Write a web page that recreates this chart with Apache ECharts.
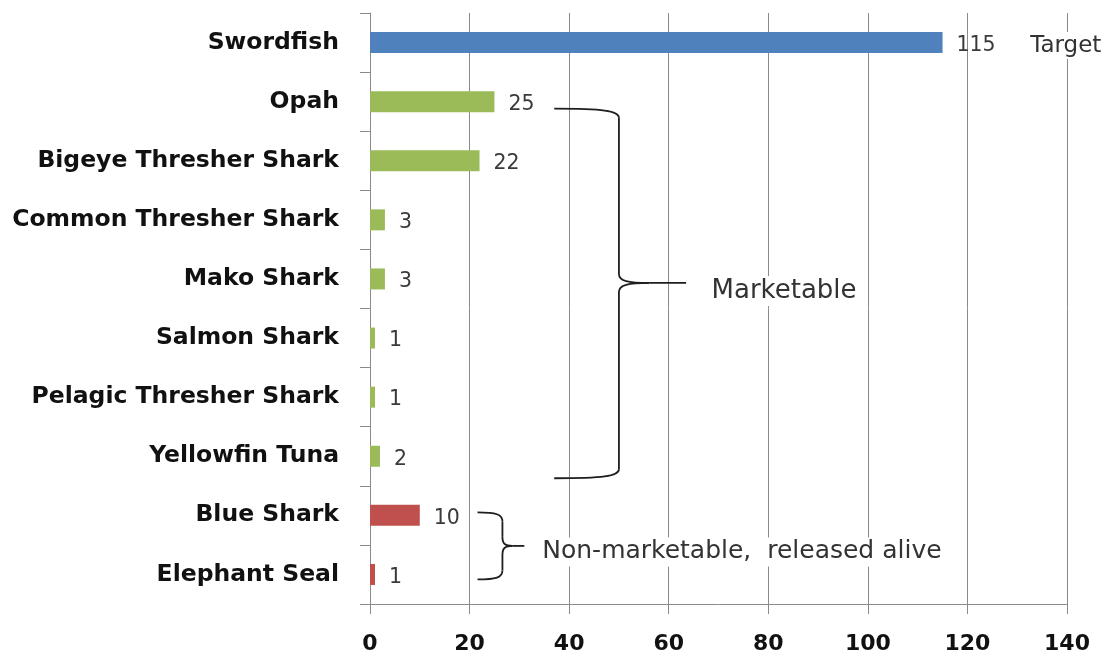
<!DOCTYPE html>
<html>
<head>
<meta charset="utf-8">
<script src="https://cdn.jsdelivr.net/npm/echarts@6/dist/echarts.min.js"></script>
<style>
  html, body { margin: 0; padding: 0; background: #fff; }
  #chart { width: 1115px; height: 659px; }
</style>
</head>
<body>
<div id="chart"></div>
<script>
// Longline catch by species (number of fish)
const species = [
  'Swordfish', 'Opah', 'Bigeye Thresher Shark', 'Common Thresher Shark',
  'Mako Shark', 'Salmon Shark', 'Pelagic Thresher Shark', 'Yellowfin Tuna',
  'Blue Shark', 'Elephant Seal'
];
const catchCounts = [115, 25, 22, 3, 3, 1, 1, 2, 10, 1];
const catchGroup = [
  'target', 'marketable', 'marketable', 'marketable', 'marketable',
  'marketable', 'marketable', 'marketable', 'released', 'released'
];
const xTicks = [0, 20, 40, 60, 80, 100, 120, 140];

const groupColors = { target: '#4F81BD', marketable: '#9BBB59', released: '#C0504D' };
const labelFont = '"DejaVu Sans", sans-serif';

const chart = echarts.init(document.getElementById('chart'), null, { renderer: 'canvas' });

chart.setOption({
  animation: false,
  backgroundColor: '#ffffff',
  grid: { left: 370, right: 48, top: 13, bottom: 55, containLabel: false },
  xAxis: {
    type: 'value',
    min: xTicks[0],
    max: xTicks[xTicks.length - 1],
    interval: xTicks[1] - xTicks[0],
    axisLine: { show: true, lineStyle: { color: '#8a8a8a', width: 1 } },
    axisTick: { show: true, inside: false, length: 10, lineStyle: { color: '#8a8a8a' } },
    splitLine: { show: true, lineStyle: { color: '#8a8a8a', width: 1 } },
    axisLabel: {
      margin: 29, color: '#111', fontFamily: labelFont, fontWeight: 'bold', fontSize: 22
    }
  },
  yAxis: {
    type: 'category',
    inverse: true,
    data: species,
    axisLine: { show: true, lineStyle: { color: '#8a8a8a', width: 1 } },
    axisTick: { show: true, inside: false, length: 10, lineStyle: { color: '#8a8a8a' } },
    splitLine: { show: false },
    axisLabel: {
      margin: 31, color: '#111', fontFamily: labelFont, fontWeight: 'bold', fontSize: 23.5
    }
  },
  series: [{
    type: 'bar',
    barWidth: 21,
    data: catchCounts.map((v, i) => ({
      value: v,
      itemStyle: { color: groupColors[catchGroup[i]] }
    })),
    label: {
      show: true,
      position: 'right',
      distance: 14,
      offset: [0, 3],
      color: '#3a3a3a',
      fontFamily: labelFont,
      fontSize: 20.5
    }
  }]
});

// Group annotations: braces and captions placed from the axis scales
function px(value, index) {
  return chart.convertToPixel({ gridIndex: 0 }, [value, index]);
}

const braceStyle = { stroke: '#1e1e1e', lineWidth: 1.8, fill: null };

// A curly brace opening to the left, pointing right at (xTip, yTip)
function brace(x0, xv, xTip, yTop, yTip, yBot) {
  const r = 9;
  const xm = xv + (xTip - xv) * 0.45;
  const parts = [
    { type: 'bezierCurve', shape: { x1: x0, y1: yTop, x2: xv, y2: yTop + r,
      cpx1: x0 + (xv - x0) * 0.75, cpy1: yTop, cpx2: xv, cpy2: yTop + 2 } },
    { type: 'line', shape: { x1: xv, y1: yTop + r, x2: xv, y2: yTip - r } },
    { type: 'bezierCurve', shape: { x1: xv, y1: yTip - r, x2: xm, y2: yTip,
      cpx1: xv, cpy1: yTip - 2, cpx2: xv + (xm - xv) * 0.3, cpy2: yTip } },
    { type: 'line', shape: { x1: xm, y1: yTip, x2: xTip, y2: yTip } },
    { type: 'bezierCurve', shape: { x1: xm, y1: yTip, x2: xv, y2: yTip + r,
      cpx1: xv + (xm - xv) * 0.3, cpy1: yTip, cpx2: xv, cpy2: yTip + 2 } },
    { type: 'line', shape: { x1: xv, y1: yTip + r, x2: xv, y2: yBot - r } },
    { type: 'bezierCurve', shape: { x1: xv, y1: yBot - r, x2: x0, y2: yBot,
      cpx1: xv, cpy1: yBot - 2, cpx2: x0 + (xv - x0) * 0.75, cpy2: yBot } }
  ];
  return parts.map(p => Object.assign(p, { style: braceStyle, z: 10 }));
}

function caption(text, x, y, size) {
  return {
    type: 'text', x: x, y: y, z: 10,
    style: {
      text: text, fill: '#333',
      font: size + 'px "DejaVu Sans", sans-serif',
      backgroundColor: '#fff', padding: [2, 3], verticalAlign: 'middle'
    }
  };
}

// Marketable: Opah .. Yellowfin Tuna
const mTop = px(0, 1)[1] + 7;
const mBot = px(0, 7)[1] + 22;
const mTip = px(0, 4)[1] + 4;
const mx0 = px(37, 0)[0], mxv = px(50, 0)[0], mxt = px(63.5, 0)[0];

// Non-marketable: Blue Shark .. Elephant Seal
const nTop = px(0, 8)[1] - 3;
const nBot = px(0, 9)[1] + 5;
const nTip = (nTop + nBot) / 2;
const nx0 = px(21.6, 0)[0], nxv = px(26.6, 0)[0], nxt = px(31, 0)[0];

chart.setOption({
  graphic: [].concat(
    brace(mx0, mxv, mxt, mTop, mTip, mBot),
    brace(nx0, nxv, nxt, nTop, nTip, nBot),
    [
      caption('Target', px(132.0, 0)[0], px(0, 0)[1] + 3, 23),
      caption('Marketable', px(68.0, 0)[0], mTip + 8, 26),
      caption('Non-marketable,  released alive', px(34.0, 0)[0], nTip + 6, 25)
    ]
  )
});
</script>
</body>
</html>
